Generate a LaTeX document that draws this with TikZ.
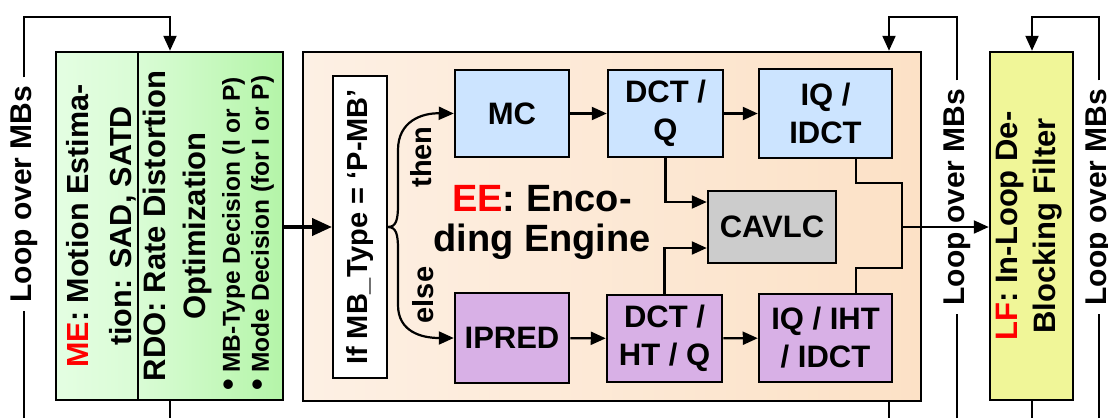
\documentclass[tikz,border=0pt]{standalone}
\usepackage{fontspec}
\setmainfont{Liberation Sans}
\usetikzlibrary{arrows.meta,calc}
\definecolor{gA}{RGB}{228,254,226}
\definecolor{gB}{RGB}{180,245,168}
\definecolor{pA}{RGB}{253,240,228}
\definecolor{pB}{RGB}{252,225,198}
\definecolor{yl}{RGB}{240,246,152}
\definecolor{bl}{RGB}{204,228,255}
\definecolor{pu}{RGB}{216,176,230}
\definecolor{gy}{RGB}{204,204,204}
\definecolor{rd}{RGB}{255,0,0}
\newcommand\myfs[2]{\fontsize{#1}{#2}\selectfont}
\newcommand\bigbul{\scalebox{1.35}{\textbullet}}
\begin{document}
\begin{tikzpicture}[x=1pt,y=-1pt,
  box/.style={draw=black, line width=2.5pt, inner sep=0pt, align=center, font=\bfseries\myfs{31}{38}},
  ln/.style={line width=2.2pt},
  arr/.style={ln, -{Triangle[length=15pt,width=13pt]}},
  looptxt/.style={rotate=90, font=\bfseries\myfs{30}{36}, inner xsep=8pt, inner ysep=0pt},
  rtxt/.style={rotate=90, align=center, inner sep=0pt},
]
\useasboundingbox (0,0) rectangle (1108,418);
\clip (0,0) rectangle (1108,418);
% green block
\node[box, minimum width=82pt, minimum height=348pt, left color=gA, right color=gA!78!gB] (me) at (97,226) {};
\node[box, minimum width=145pt, minimum height=348pt, left color=gA!78!gB, right color=gB] (rdo) at (210.5,226) {};
\node[rtxt, font=\bfseries\myfs{30.5}{43}] (metxt) at (101,226) {\textcolor{rd}{ME}: Motion Estima-\\tion: SAD, SATD};
\node[rtxt, font=\bfseries\myfs{31}{40}] (rdotxt) at (177,226) {RDO: Rate Distortion\\Optimization};
\node[rtxt, align=left, anchor=west, font=\bfseries\myfs{24.5}{29}] (rdobul) at (248,391) {\bigbul\ MB-Type Decision (I or P)\\\bigbul\ Mode Decision (for I or P)};
% encoding engine
\node[box, minimum width=618pt, minimum height=349pt, left color=pA, right color=pB] (ee) at (612,226.5) {};
\node[box, line width=2pt, fill=white, minimum width=54pt, minimum height=302pt] (if) at (360,227) {};
\node[rtxt, font=\bfseries\myfs{29}{34}] (iftxt) at (if.center) {If MB\_Type = ‘P-MB’};
\node[box, fill=bl, minimum width=114pt, minimum height=87pt] (mc) at (512,113.5) {MC};
\node[box, fill=bl, minimum width=115pt, minimum height=87pt] (dctq) at (665.5,113.5) {DCT /\\Q};
\node[box, fill=bl, minimum width=133pt, minimum height=89pt] (iqidct) at (825.5,113.5) {IQ /\\IDCT};
\node[box, fill=gy, minimum width=128pt, minimum height=72pt] (cavlc) at (772,227) {CAVLC};
\node[box, fill=pu, minimum width=114pt, minimum height=90pt] (ipred) at (512,338) {IPRED};
\node[box, fill=pu, minimum width=115pt, minimum height=87pt] (dctht) at (664.5,338.5) {DCT /\\HT / Q};
\node[box, fill=pu, minimum width=133pt, minimum height=88pt] (iqiht) at (825.5,338) {IQ / IHT\\/ IDCT};
\node[align=center, inner sep=0pt, font=\bfseries\myfs{38}{40}] (eetxt) at (542,222) {\textcolor{rd}{EE}: Enco-\\ding Engine};
\node[rotate=90, inner sep=0pt, font=\bfseries\myfs{29}{32}] (then) at (421,157) {then};
\node[rotate=90, inner sep=0pt, font=\bfseries\myfs{29}{32}] (else) at (423,295) {else};
% loop filter
\node[box, fill=yl, minimum width=83pt, minimum height=348pt] (lf) at (1031.5,226) {};
\node[rtxt, font=\bfseries\myfs{31}{38}] (lftxt) at (1029,226) {\textcolor{rd}{LF}: In-Loop De-\\Blocking Filter};
% connectors
\draw[line width=4pt, -{Triangle[length=20pt,width=17pt]}] (rdo.east |- if.west) -- (if.west);
\draw[arr] (if.east) .. controls (396,227) and (398,220) .. (398,205) -- (398,150) .. controls (398,121) and (422,113) .. (mc.west);
\draw[arr] (if.east) .. controls (396,227) and (398,234) .. (398,249) -- (398,305) .. controls (398,332) and (422,338) .. (ipred.west);
\draw[arr] (mc) -- (dctq);
\draw[arr] (dctq) -- (iqidct);
\draw[arr] (ipred) -- (dctht);
\draw[arr] (dctht) -- (iqiht);
\draw[arr] (dctq.south) |- ([yshift=25pt]cavlc.west);
\draw[arr] (dctht.north) |- ([yshift=-21pt]cavlc.west);
\coordinate (ja) at (902,183);
\coordinate (jb) at (902,268);
\coordinate (j) at (902,227);
\draw[ln] ([xshift=30.5pt]iqidct.south) |- (ja) -- (jb) -| ([xshift=30.5pt]iqiht.north);
% loops
\node[looptxt] (lp1) at (24,194) {Loop over MBs};
\coordinate (lp1b) at (24,418);
\coordinate (lp1t) at (24,17);
\coordinate (lp1a) at (170,17);
\coordinate (lp1c) at (170,418);
\draw[ln] (lp1b) -- (lp1.west);
\draw[arr] (lp1.east) -- (lp1t) -- (lp1a) -- (lp1a |- rdo.north);
\draw[ln] (lp1c |- rdo.south) -- (lp1c);
\node[looptxt] (lp2) at (957,197) {Loop over MBs};
\coordinate (lp2b) at (957,418);
\coordinate (lp2t) at (957,17);
\coordinate (lp2a) at (889,17);
\coordinate (lp2c) at (889,418);
\draw[ln] (lp2b) -- (lp2.west);
\draw[arr] (lp2.east) -- (lp2t) -- (lp2a) -- (lp2a |- ee.north);
\draw[ln] (lp2c |- ee.south) -- (lp2c);
\node[looptxt] (lp3) at (1099,197) {Loop over MBs};
\coordinate (lp3b) at (1099,418);
\coordinate (lp3t) at (1099,17);
\coordinate (lp3a) at (1032,17);
\coordinate (lp3c) at (1032,418);
\draw[ln] (lp3b) -- (lp3.west);
\draw[arr] (lp3.east) -- (lp3t) -- (lp3a) -- (lp3a |- lf.north);
\draw[ln] (lp3c |- lf.south) -- (lp3c);
\draw[arr] (j) -- (j -| lf.west);
\end{tikzpicture}
\end{document}
